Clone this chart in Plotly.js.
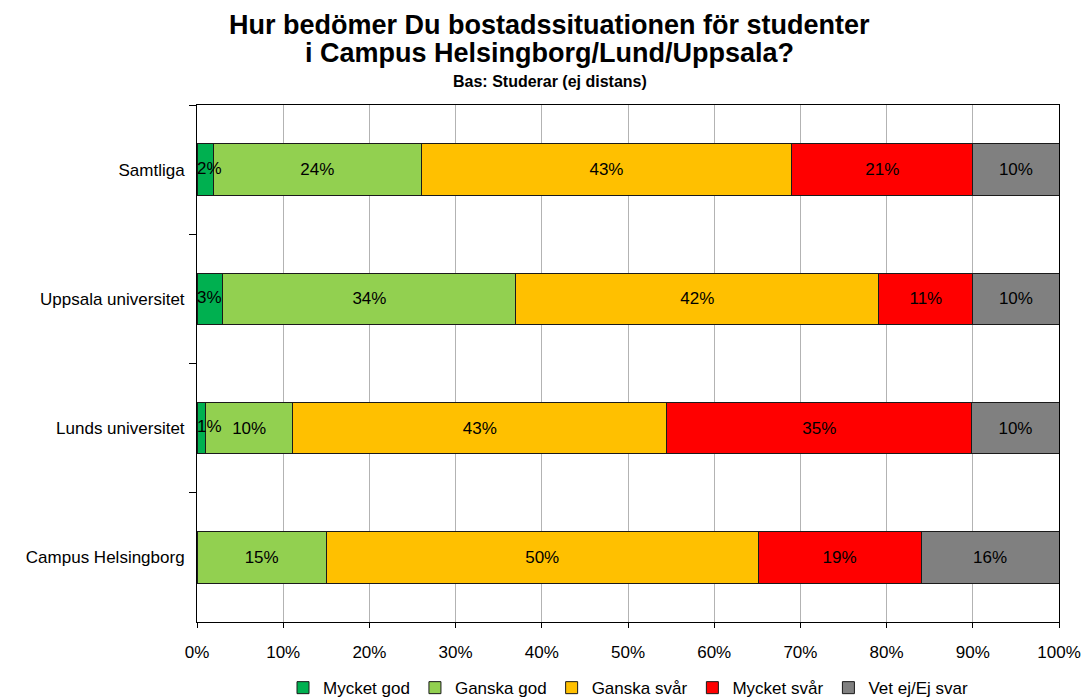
<!DOCTYPE html>
<html>
<head>
<meta charset="utf-8">
<script src="https://cdn.plot.ly/plotly-3.0.1.min.js"></script>
<style>html,body{margin:0;padding:0;background:#fff;}#chart{width:1083px;height:700px;}</style>
</head>
<body>
<div id="chart"></div>
<script>
// Categories (top to bottom as shown in the reference)
var categories = ["Samtliga", "Uppsala universitet", "Lunds universitet", "Campus Helsingborg"];
var seriesNames = ["Mycket god", "Ganska god", "Ganska svår", "Mycket svår", "Vet ej/Ej svar"];
// Values in percent, per category (same order as categories)
var mycketGod   = [1.9, 3.0, 1.0, null];
var ganskaGod   = [24.1, 34.0, 10.1, 15.0];
var ganskaSvar  = [43.0, 42.1, 43.4, 50.1];
var mycketSvar  = [21.0, 10.9, 35.4, 18.9];
var vetEj       = [10.0, 10.0, 10.1, 16.0];
var xTickVals = [0,10,20,30,40,50,60,70,80,90,100];
var xTickText = ["0%","10%","20%","30%","40%","50%","60%","70%","80%","90%","100%"];
var titleLine1 = "Hur bedömer Du bostadssituationen för studenter";
var titleLine2 = "i Campus Helsingborg/Lund/Uppsala?";
var subtitle = "Bas: Studerar (ej distans)";

var colors = ["#00B050", "#92D050", "#FFC000", "#FF0000", "#808080"];
var allSeries = [mycketGod, ganskaGod, ganskaSvar, mycketSvar, vetEj];
var FONT = "Liberation Sans, Arial, sans-serif";

var traces = allSeries.map(function(vals, i){
  return {
    type: "bar",
    orientation: "h",
    name: seriesNames[i],
    y: categories,
    x: vals,
    marker: {color: colors[i], line: {color: "#1a1a1a", width: 1}},
    texttemplate: "%{x:.0f}%",
    textposition: i === 0 ? "none" : "inside",
    insidetextanchor: "middle",
    textangle: 0,
    constraintext: "none",
    cliponaxis: false,
    textfont: {family: FONT, size: 17, color: "#000"},
    hoverinfo: "name+x"
  };
});

// Labels of the thin first segment, drawn on top of the stack (start at the bar base)
traces.push({
  type: "scatter",
  mode: "text",
  showlegend: false,
  hoverinfo: "skip",
  y: categories,
  x: mycketGod.map(function(){ return 0; }),
  text: mycketGod.map(function(v){ return v == null ? "" : Math.round(v) + "%"; }),
  textposition: "middle right",
  textfont: {family: FONT, size: 17, color: "#000"},
  cliponaxis: false
});

var layout = {
  width: 1083, height: 700,
  barmode: "stack",
  bargap: 0.6,
  paper_bgcolor: "#fff",
  plot_bgcolor: "#fff",
  margin: {l: 197, r: 24, t: 105, b: 78},
  font: {family: FONT, size: 17, color: "#000"},
  annotations: [
    {text: "<b>" + titleLine1 + "</b>", xref: "paper", yref: "paper", x: 0.409, y: 1.1547,
     xanchor: "center", yanchor: "middle", showarrow: false, font: {family: FONT, size: 27, color: "#000"}},
    {text: "<b>" + titleLine2 + "</b>", xref: "paper", yref: "paper", x: 0.409, y: 1.1006,
     xanchor: "center", yanchor: "middle", showarrow: false, font: {family: FONT, size: 27, color: "#000"}},
    {text: "<b>" + subtitle + "</b>", xref: "paper", yref: "paper", x: 0.409, y: 1.0445,
     xanchor: "center", yanchor: "middle", showarrow: false, font: {family: FONT, size: 16, color: "#000"}}
  ],
  xaxis: {
    range: [0, 100],
    tickmode: "array", tickvals: xTickVals, ticktext: xTickText,
    showgrid: true, gridcolor: "#B3B3B3", gridwidth: 1,
    showline: true, linecolor: "#000", linewidth: 1, mirror: true,
    ticks: "outside", ticklen: 5, tickcolor: "#000",
    ticklabelstandoff: 10,
    automargin: false,
    zeroline: false, fixedrange: true
  },
  yaxis: {
    type: "category",
    categoryorder: "array", categoryarray: categories,
    autorange: "reversed",
    tickson: "boundaries",
    ticks: "outside", ticklen: 7, tickcolor: "#000",
    ticklabelstandoff: 8,
    automargin: false,
    showgrid: false,
    showline: true, linecolor: "#000", linewidth: 1, mirror: true,
    zeroline: false, fixedrange: true
  },
  showlegend: true,
  legend: {
    orientation: "h",
    x: 0.5, xanchor: "center",
    yref: "container",
    y: 0.017, yanchor: "middle",
    traceorder: "normal",
    itemwidth: 30,
    font: {family: FONT, size: 17}
  }
};

Plotly.newPlot("chart", traces, layout, {displayModeBar: false, staticPlot: true});
</script>
</body>
</html>
